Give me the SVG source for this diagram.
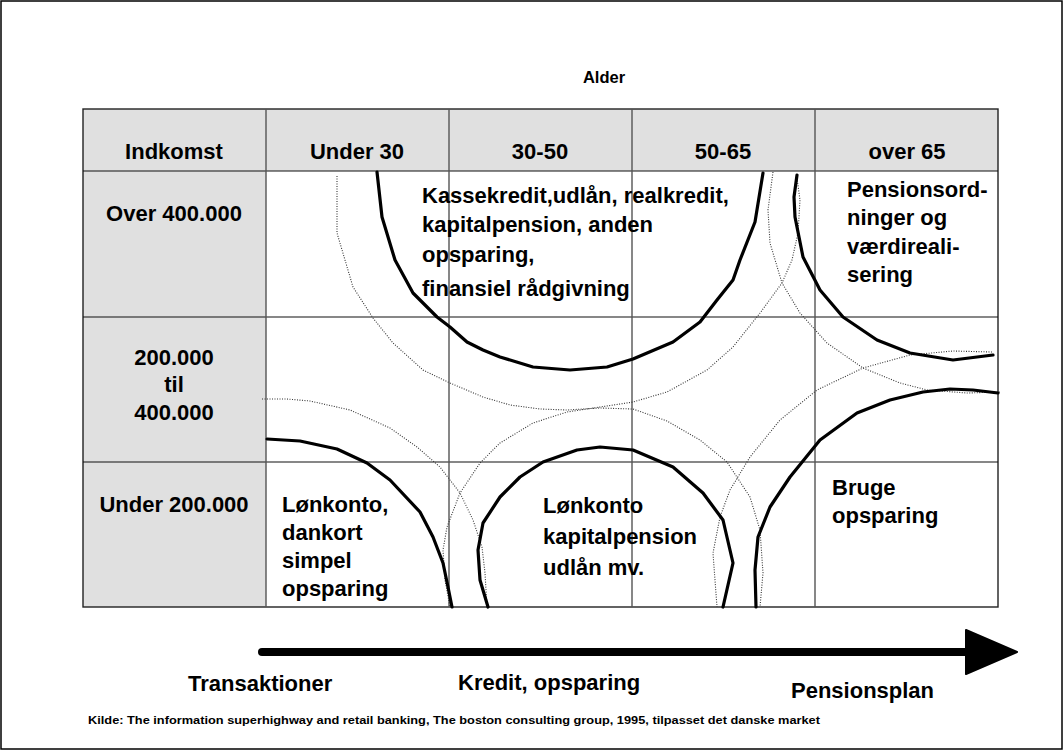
<svg xmlns="http://www.w3.org/2000/svg" width="1064" height="751" viewBox="0 0 1064 751">
<defs>
<style>
text{font-family:"Liberation Sans",Arial,Helvetica,sans-serif;font-weight:bold;fill:#000;}
.t{font-size:22px;}
.c{text-anchor:middle;}
.hdr{fill:#e0e0e0;stroke:none;}
.gh{stroke:#111;stroke-width:1.2;fill:none;}
.gv{stroke:#555;stroke-width:1.4;fill:none;}
.thick{fill:none;stroke:#000;stroke-width:3.2;stroke-linecap:round;stroke-linejoin:round;}
.dot{fill:none;stroke:#333;stroke-width:1.1;stroke-dasharray:1 1.5;}
</style>
</defs>
<rect x="1" y="1" width="1061" height="748" fill="#fff" stroke="#000" stroke-width="1.5"/>
<text x="604" y="83" class="c" style="font-size:16.5px">Alder</text>
<g id="table">
<rect class="hdr" x="83" y="109" width="915" height="62"/>
<rect class="hdr" x="83" y="171" width="183" height="436"/>
<rect x="83" y="109" width="915" height="498" fill="none" stroke="#222" stroke-width="1.4"/>
<path class="gh" d="M83 171H998M83 317H998M83 462H998"/>
<path class="gv" d="M266 109V607M449 109V607M632 109V607M815 109V607"/>
</g>
<g id="headers" class="t">
<text x="174" y="159" class="c">Indkomst</text>
<text x="357" y="159" class="c">Under 30</text>
<text x="540" y="159" class="c">30-50</text>
<text x="723" y="159" class="c">50-65</text>
<text x="907" y="159" class="c">over 65</text>
</g>
<g id="rows" class="t">
<text x="174" y="221" class="c">Over 400.000</text>
<text x="174" y="365" class="c">200.000</text>
<text x="174" y="392" class="c">til</text>
<text x="174" y="420" class="c">400.000</text>
<text x="174" y="512" class="c">Under 200.000</text>
</g>
<g id="connectors">
<path class="dot" d="M337 176 L337 233 L353 287 L373 318 L393 343 L423 370 L450 383 L483 397 L510 405 L540 409 L567 410 L600 408 L633 409 L667 421 L700 440 L727 462 L750 497 L760 530 L763 573 L760 607"/>
<path class="dot" d="M797 178 L800 200 L798 233 L792 260 L782 283 L760 313 L733 347 L707 370 L667 392 L633 402 L600 407 L567 412 L533 423 L500 443 L480 463 L460 493 L447 527 L443 550 L445 580 L450 607"/>
<path class="dot" d="M773 172 L768 210 L770 243 L782 283 L800 313 L827 343 L863 368 L900 383 L927 390 L967 393 L1000 392"/>
<path class="dot" d="M992 352 L953 351 L910 355 L863 368 L817 390 L780 420 L750 457 L730 490 L720 517 L713 553 L717 607"/>
<path class="dot" d="M262 399 L287 399 L310 401 L350 410 L390 428 L417 447 L440 467 L460 493 L473 520 L482 547 L485 573 L487 607"/>
<path class="thick" d="M377 172 L382 217 L395 260 L413 293 L437 317 L450 327 L467 342 L483 350 L500 357 L533 367 L570 370 L607 367 L633 359 L673 342 L700 322 L717 300 L733 280 L740 260 L755 222 L763 173"/>
<path class="thick" d="M797 175 L794 197 L795 217 L803 257 L820 290 L843 317 L877 340 L910 353 L953 360 L993 355"/>
<path class="thick" d="M998 393 L973 390 L950 389 L923 392 L890 400 L857 413 L820 440 L790 477 L770 507 L758 537 L755 570 L756 607"/>
<path class="thick" d="M488 607 L480 580 L478 550 L483 523 L500 497 L520 477 L543 462 L577 450 L600 447 L633 450 L673 467 L703 493 L723 520 L733 563 L723 607"/>
<path class="thick" d="M267 439 L300 441 L337 449 L367 463 L390 480 L420 512 L433 537 L443 563 L448 587 L452 607"/>
<path d="M262 652 H968" stroke="#000" stroke-width="8" stroke-linecap="round" fill="none"/>
<path d="M966 630 L1017 652 L966 674 Z" fill="#000" stroke="#000" stroke-width="2" stroke-linejoin="round"/>
</g>
<g id="segments" class="t">
<text x="422" y="203"><tspan x="422">Kassekredit,udlån, realkredit,</tspan><tspan x="422" y="232">kapitalpension, anden</tspan><tspan x="422" y="262">opsparing,</tspan><tspan x="422" y="296">finansiel rådgivning</tspan></text>
<text x="847" y="197"><tspan x="847">Pensionsord-</tspan><tspan x="847" y="225">ninger og</tspan><tspan x="847" y="254">værdireali-</tspan><tspan x="847" y="282">sering</tspan></text>
<text x="282" y="512"><tspan x="282">Lønkonto,</tspan><tspan x="282" y="540">dankort</tspan><tspan x="282" y="568">simpel</tspan><tspan x="282" y="596">opsparing</tspan></text>
<text x="543" y="513"><tspan x="543">Lønkonto</tspan><tspan x="543" y="544">kapitalpension</tspan><tspan x="543" y="575">udlån mv.</tspan></text>
<text x="832" y="495"><tspan x="832">Bruge</tspan><tspan x="832" y="523">opsparing</tspan></text>
</g>
<g id="axis" class="t">
<text x="188" y="691">Transaktioner</text>
<text x="458" y="690">Kredit, opsparing</text>
<text x="791" y="698">Pensionsplan</text>
</g>
<text x="88" y="724" style="font-size:11px" textLength="732" lengthAdjust="spacingAndGlyphs">Kilde: The information superhighway and retail banking, The boston consulting group, 1995, tilpasset det danske market</text>
</svg>
